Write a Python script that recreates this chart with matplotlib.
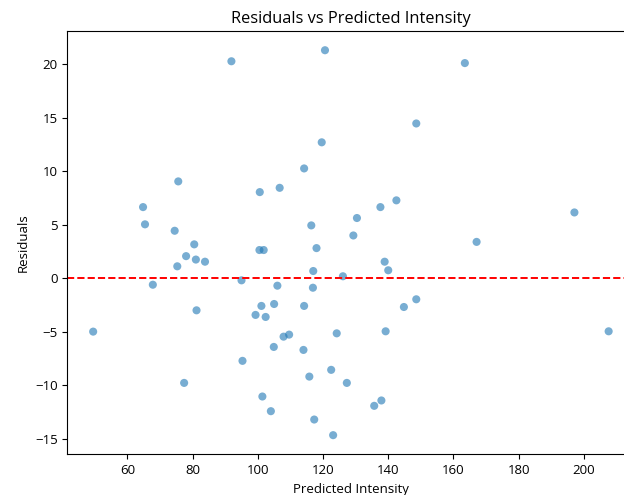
import matplotlib
matplotlib.use("Agg")
import matplotlib.pyplot as plt

plt.rcParams['font.family'] = ['Open Sans', 'DejaVu Sans']

predicted = [91.9, 120.6, 119.6, 114.2, 75.6, 100.6, 106.7, 64.8, 65.4, 74.5,
             116.4, 80.5, 100.5, 101.8, 118.0, 78.0, 81.0, 83.8, 75.3, 117.0,
             67.8, 95.0, 106.0, 116.9, 81.2, 101.1, 105.0, 114.2, 99.3, 102.4,
             49.5, 124.2, 107.9, 109.6, 104.9, 114.0, 95.3, 77.4, 122.5, 115.8,
             101.4, 104.0, 117.3, 123.1, 163.5, 148.6, 142.5, 137.6, 130.4, 129.3,
             197.1, 167.1, 138.9, 140.0, 126.1, 144.8, 148.6, 139.2, 207.6, 127.3,
             137.9, 135.7]
residuals = [20.27, 21.3, 12.7, 10.26, 9.05, 8.05, 8.45, 6.65, 5.04, 4.44,
             4.94, 3.17, 2.64, 2.64, 2.82, 2.07, 1.75, 1.55, 1.12, 0.68,
             -0.6, -0.19, -0.69, -0.88, -2.99, -2.58, -2.4, -2.58, -3.42, -3.61,
             -4.98, -5.14, -5.45, -5.26, -6.41, -6.69, -7.71, -9.77, -8.55, -9.18,
             -11.04, -12.41, -13.19, -14.65, 20.1, 14.46, 7.28, 6.65, 5.63, 4.0,
             6.15, 3.4, 1.55, 0.75, 0.19, -2.68, -1.96, -4.95, -4.95, -9.77,
             -11.41, -11.91]

fig = plt.figure(figsize=(6.24, 4.95), dpi=100)
ax = fig.add_axes([0.108, 0.082, 1.0167 - 0.108, 0.9374 - 0.082])
ax.scatter(predicted, residuals, s=34, alpha=0.6, color='#1f77b4', edgecolors='none')
ax.axhline(0, color='red', linestyle='--', linewidth=1.4)
ax.set_title("Residuals vs Predicted Intensity", fontsize=11.8)
ax.set_xlabel("Predicted Intensity", fontsize=9.5)
ax.set_ylabel("Residuals", fontsize=9.5)
ax.tick_params(labelsize=9.5)
ax.set_xticks([60, 80, 100, 120, 140, 160, 180, 200])
ax.set_yticks([-15, -10, -5, 0, 5, 10, 15, 20])
fig.savefig("out.png", dpi=100)
